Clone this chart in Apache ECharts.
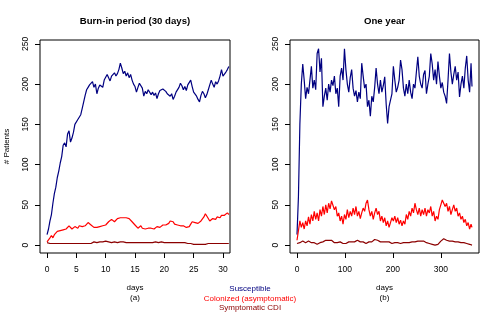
<!DOCTYPE html>
<html>
<head>
<meta charset="utf-8">
<script src="https://cdn.jsdelivr.net/npm/echarts@6/dist/echarts.min.js"></script>
<style>
html,body{margin:0;padding:0;background:#fff;}
#chart{width:500px;height:323px;}
</style>
</head>
<body>
<div id="chart"></div>
<script>
// ---------- Data ----------
const seriesNames = ["Susceptible", "Colonized (asymptomatic)", "Symptomatic CDI"];
const panelTitles = ["Burn-in period (30 days)", "One year"];
const panelTags = ["(a)", "(b)"];
const xAxisName = "days";
const yAxisName = "# Patients";
const leftXTicks = [0, 5, 10, 15, 20, 25, 30];
const rightXTicks = [0, 100, 200, 300];
const yTicks = [0, 50, 100, 150, 200, 250];

const leftDays = [0,0.25,0.5,0.75,1,1.25,1.5,1.75,2,2.25,2.5,2.75,3,3.25,3.5,3.75,4,4.25,4.5,4.75,5,5.25,5.5,5.75,6,6.25,6.5,6.75,7,7.25,7.5,7.75,8,8.25,8.5,8.75,9,9.25,9.5,9.75,10,10.25,10.5,10.75,11,11.25,11.5,11.75,12,12.25,12.5,12.75,13,13.25,13.5,13.75,14,14.25,14.5,14.75,15,15.25,15.5,15.75,16,16.25,16.5,16.75,17,17.25,17.5,17.75,18,18.25,18.5,18.75,19,19.25,19.5,19.75,20,20.25,20.5,20.75,21,21.25,21.5,21.75,22,22.25,22.5,22.75,23,23.25,23.5,23.75,24,24.25,24.5,24.75,25,25.25,25.5,25.75,26,26.25,26.5,26.75,27,27.25,27.5,27.75,28,28.25,28.5,28.75,29,29.25,29.5,29.75,30,30.25,30.5,30.75,31];

const leftSusceptible = [13,20,30,38, 52,64,72,84, 92,102,110,124, 127,122,138,142, 128,133,140,150, 148,156,158,162, 170,178,186,193, 196,199,200,203, 196,200,188,195, 199,201,196,205, 206,212,208,204, 210,208,214,210, 213,218,226,220, 213,216,210,214, 208,212,205,200, 197,190,196,201, 203,195,185,191, 188,193,191,187, 190,186,189,182, 188,192,190,194, 192,191,188,190, 185,188,181,185, 190,188,196,201, 198,193,197,192, 199,201,205,197, 190,192,185,181, 178,186,191,188, 183,187,193,199, 205,200,196,203, 200,204,210,218, 210,212,215,218, 222];

const leftColonized = [4,6,9,12, 9,13,15,17, 16,18,18,19, 19,20,22,24, 22,20,21,23, 22,21,24,23, 23,25,24,26, 28,27,25,27, 22,20,22,24, 23,25,24,26, 25,27,29,28, 32,31,29,31, 33,32,34,33, 34,35,34,32, 33,31,29,27, 25,23,21,23, 24,21,22,20, 21,21,19,21, 21,20,22,23, 21,22,22,25, 23,25,24,27, 30,32,29,26, 27,25,23,24, 22,24,23,22, 24,23,26,29, 30,28,29,27, 26,30,31,35, 39,37,33,30, 29,33,34,32, 35,36,34,37, 39,37,38,40, 38];

const leftCDI = [3,2,2,2, 2,2,2,2, 2,2,2,2, 2,2,2,2, 2,2,2,2, 2,2,2,2, 2,2,2,2, 2,2,2,2, 4,4,3,4, 4,4,4,4, 5,5,4,4, 3,4,4,4, 3,4,4,3, 4,3,3,4, 3,3,3,4, 3,3,3,3, 3,3,3,3, 3,3,3,3, 3,4,4,3, 3,3,4,3, 3,3,3,3, 3,3,3,3, 3,3,3,3, 3,3,3,2, 2,2,2,1, 1,1,1,1, 1,1,1,1, 1,2,2,2, 2,2,2,2, 2,2,2,2, 2,2,2,2, 2];

const rightDays = [0,3,6,9,12,15,18,21,24,27,30,33,36,39,42,45,48,51,54,57,60,63,66,69,72,75,78,81,84,87,90,93,96,99,102,105,108,111,114,117,120,123,126,129,132,135,138,141,144,147,150,153,156,159,162,165,168,171,174,177,180,183,186,189,192,195,198,201,204,207,210,213,216,219,222,225,228,231,234,237,240,243,246,249,252,255,258,261,264,267,270,273,276,279,282,285,288,291,294,297,300,303,306,309,312,315,318,321,324,327,330,333,336,339,342,345,348,351,354,357,360,363,365];

const rightSusceptible = [13,60,150,200,225,205,182,196,188,205,222,195,205,193,238,244,215,232,172,185,195,180,200,190,205,198,210,188,195,172,210,220,205,244,218,200,190,208,218,195,185,192,178,190,182,226,210,195,200,172,180,160,185,178,196,220,200,188,205,190,198,209,175,151,172,180,188,222,205,190,196,205,230,218,195,185,200,188,205,190,182,200,195,215,234,210,200,195,212,217,188,200,210,238,225,205,218,200,228,210,195,202,190,185,176,205,238,215,200,212,222,205,215,184,200,210,195,220,235,205,190,226,197];

const rightColonized = [6,18,30,22,28,20,30,24,35,26,38,30,42,32,40,30,44,36,48,38,50,40,52,45,55,57,44,48,36,40,30,36,26,38,32,44,34,42,36,46,38,48,36,42,33,40,46,42,52,56,44,36,42,32,40,46,38,42,30,36,28,34,24,30,22,28,34,30,36,28,34,26,31,24,30,26,38,32,42,36,46,40,52,44,38,46,36,44,38,46,36,44,40,48,36,42,30,36,32,44,50,56,58,48,52,42,48,38,44,50,42,46,36,40,32,36,28,32,24,28,20,26,22];

const rightCDI = [2,4,3,4,5,4,3,4,5,4,3,2,3,2,1,2,3,4,4,5,6,7,6,7,6,5,3,2,3,4,4,3,2,1,2,3,4,5,4,3,4,5,6,5,4,3,4,3,2,3,4,3,4,5,7,8,6,5,4,4,4,5,4,3,4,3,2,3,3,4,3,3,2,3,3,2,3,3,3,4,4,3,4,5,5,4,5,6,5,4,3,2,2,1,1,0,0,0,1,3,5,7,8,6,6,5,5,4,5,4,4,3,4,3,3,4,3,2,2,1,1,0,0];

const seriesColors = ["#000080", "#FF0000", "#8B0000"];

// ---------- Chart ----------
const FONT = "'Liberation Sans', Arial, Helvetica, sans-serif";
const grids = [
  {left: 40, top: 40, width: 190, height: 213},
  {left: 290, top: 40, width: 189, height: 213}
];

function zip(xs, ys) { return xs.map((x, i) => [x, ys[i]]); }

function makeX(gi, min, max, ticks) {
  return {
    type: 'value', gridIndex: gi, min: min, max: max, position: 'bottom',
    axisLine: {show: false, onZero: false},
    splitLine: {show: false},
    axisTick: {show: true, inside: false, length: 5, lineStyle: {color: '#000', width: 1}, customValues: ticks},
    axisLabel: {color: '#000', fontSize: 8.5, fontFamily: FONT, margin: 12, customValues: ticks}
  };
}
function makeY(gi, name) {
  return {
    type: 'value', gridIndex: gi, min: -9.8, max: 254.8, position: 'left',
    name: name, nameLocation: 'middle', nameGap: 29,
    nameTextStyle: {color: '#000', fontSize: 8, fontFamily: FONT},
    axisLine: {show: false, onZero: false},
    splitLine: {show: false},
    axisTick: {show: true, inside: false, length: 5, lineStyle: {color: '#000', width: 1}, customValues: yTicks},
    axisLabel: {color: '#000', fontSize: 8.5, fontFamily: FONT, margin: 10, rotate: 90, customValues: yTicks}
  };
}

const leftSets = [leftSusceptible, leftColonized, leftCDI];
const rightSets = [rightSusceptible, rightColonized, rightCDI];
const series = [];
leftSets.forEach((s, i) => series.push({
  name: seriesNames[i], type: 'line', xAxisIndex: 0, yAxisIndex: 0,
  data: zip(leftDays, s), showSymbol: false, silent: true,
  lineStyle: {color: seriesColors[i], width: 1.2}, itemStyle: {color: seriesColors[i]}
}));
rightSets.forEach((s, i) => series.push({
  name: seriesNames[i], type: 'line', xAxisIndex: 1, yAxisIndex: 1,
  data: zip(rightDays, s), showSymbol: false, silent: true,
  lineStyle: {color: seriesColors[i], width: 1.2}, itemStyle: {color: seriesColors[i]}
}));

function txt(x, y, text, color, size, bold) {
  return {type: 'text', x: x, y: y, silent: true,
    style: {text: text, fill: color, font: (bold ? 'bold ' : '') + size + 'px ' + FONT,
      textAlign: 'center', textVerticalAlign: 'middle'}};
}

const cx0 = 40 + 190 / 2, cx1 = 290 + 189 / 2;
const option = {
  animation: false,
  backgroundColor: '#fff',
  grid: grids.map(g => Object.assign({show: true, borderColor: '#000', borderWidth: 1, backgroundColor: 'transparent', containLabel: false}, g)),
  xAxis: [makeX(0, -1.2, 31.2, leftXTicks), makeX(1, -14.6, 379.6, rightXTicks)],
  yAxis: [makeY(0, yAxisName), makeY(1, '')],
  series: series,
  graphic: [
    txt(cx0, 21, panelTitles[0], '#000', 9.6, true),
    txt(cx1, 21, panelTitles[1], '#000', 9.6, true),
    txt(cx0, 288, xAxisName, '#000', 8, false),
    txt(cx0, 297.5, panelTags[0], '#000', 8, false),
    txt(cx1, 288, xAxisName, '#000', 8, false),
    txt(cx1, 297.5, panelTags[1], '#000', 8, false),
    txt(250, 289, seriesNames[0], seriesColors[0], 8, false),
    txt(250, 298.5, seriesNames[1], seriesColors[1], 8, false),
    txt(250, 308, seriesNames[2], seriesColors[2], 8, false)
  ]
};

const chart = echarts.init(document.getElementById('chart'), null, {renderer: 'canvas'});
chart.setOption(option);
</script>
</body>
</html>
